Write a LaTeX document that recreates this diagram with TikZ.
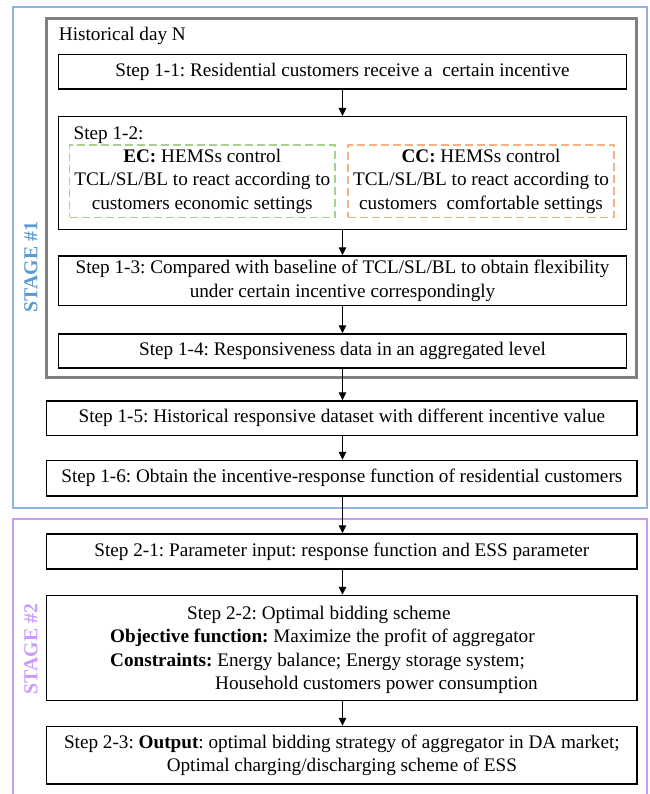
\documentclass[tikz,border=0pt]{standalone}
\usepackage{fontspec}
\setmainfont{Liberation Serif}
\usetikzlibrary{arrows.meta}
\definecolor{frameblue}{HTML}{8EB4E3}
\definecolor{textblue}{HTML}{5B9BD5}
\definecolor{framepurple}{HTML}{C99BF2}
\definecolor{textpurple}{HTML}{CC99FF}
\definecolor{framegray}{HTML}{7F7F7F}
\definecolor{ecgreen}{HTML}{A9D18E}
\definecolor{ccorange}{HTML}{F4B183}
\newcommand{\bodyfont}{\fontsize{19.2}{23.5}\selectfont\frenchspacing}
\tikzset{
  stepbox/.style={draw=black, line width=1.4pt, inner sep=0pt, align=center, font=\bodyfont},
  dashbox/.style={line width=1.3pt, dash pattern=on 8pt off 4pt, inner sep=0pt, align=center, font=\bodyfont},
  arr/.style={line width=1.3pt, -{Triangle[length=8pt,width=7.5pt]}},
  stagelabel/.style={rotate=90, font=\bfseries\fontsize{19.8}{21}\selectfont}
}
\begin{document}
\begin{tikzpicture}[x=1pt,y=-1pt]
\useasboundingbox (0,0) rectangle (649,794);
% stage frames
\node[draw=frameblue, line width=2pt, minimum width=633.2pt, minimum height=500.2pt, inner sep=0pt] (stage1) at (329.9,257.4) {};
\draw[draw=framepurple, line width=2pt] (13.3,800) -- (13.3,519) -- (646.7,519) -- (646.7,800);
\coordinate (stage2top) at (342,519);
% gray box
\node[draw=framegray, line width=2.5pt, minimum width=590pt, minimum height=359.2pt, inner sep=0pt] (dayN) at (341.7,197.9) {};
\node[font=\bodyfont, anchor=base west, inner sep=0pt] (daytitle) at (58.7,40.5) {Historical day N};
% stage labels
\node[stagelabel, text=textblue] (st1) at (31,267) {STAGE \#1};
\node[stagelabel, text=textpurple] (st2) at (31,649) {STAGE \#2};
% stage 1 steps
\node[stepbox, minimum width=568pt, minimum height=34.5pt] (s11) at (342.5,71.75) {Step 1-1: Residential customers receive a \ certain incentive};
\node[stepbox, minimum width=568pt, minimum height=112.8pt] (s12) at (342.5,173.1) {};
\node[font=\bodyfont, anchor=base west, inner sep=0pt] (s12t) at (73.5,140) {Step 1-2:};
\node[dashbox, draw=ecgreen, minimum width=265.5pt, minimum height=72.5pt] (ec) at (202.25,181.25) {\textbf{EC:} HEMSs control\\TCL/SL/BL to react according to\\customers economic settings};
\node[dashbox, draw=ccorange, minimum width=266pt, minimum height=72.5pt] (cc) at (481,181.25) {\textbf{CC:} HEMSs control\\TCL/SL/BL to react according to\\customers \ comfortable settings};
\node[stepbox, minimum width=568pt, minimum height=49.7pt] (s13) at (342.5,280.85) {Step 1-3: Compared with baseline of TCL/SL/BL to obtain flexibility\\under certain incentive correspondingly};
\node[stepbox, minimum width=568pt, minimum height=34pt] (s14) at (342.5,351) {Step 1-4: Responsiveness data in an aggregated level};
\node[stepbox, minimum width=590.3pt, minimum height=34.5pt] (s15) at (341.85,418.25) {Step 1-5: Historical responsive dataset with different incentive value};
\node[stepbox, minimum width=590.3pt, minimum height=35.5pt] (s16) at (341.85,478.25) {Step 1-6: Obtain the incentive-response function of residential customers};
% stage 2 steps
\node[stepbox, minimum width=590.3pt, minimum height=35pt] (s21) at (341.85,551.5) {Step 2-1: Parameter input: response function and ESS parameter};
\node[stepbox, minimum width=590.3pt, minimum height=105pt] (s22) at (341.85,648) {};
\node[font=\bodyfont, align=left, anchor=west, inner sep=0pt] (s22t) at (110,650) {\hspace*{77pt}Step 2-2: Optimal bidding scheme\\\textbf{Objective function:} Maximize the profit of aggregator\\\textbf{Constraints:} Energy balance; Energy storage system;\\\hspace*{105pt}Household customers power consumption};
\node[stepbox, minimum width=590.3pt, minimum height=57.5pt] (s23) at (341.85,755.25) {Step 2-3: \textbf{Output}: optimal bidding strategy of aggregator in DA market;\\Optimal charging/discharging scheme of ESS};
% arrows
\draw[arr] (s11.south) -- (s12.north);
\draw[arr] (s12.south) -- (s13.north);
\draw[arr] (s13.south) -- (s14.north);
\draw[arr] (s14.south) -- (s14.south |- s15.north);
\draw[arr] (s15.south -| s14.south) -- (s14.south |- s16.north);
\draw[arr] (s16.south -| s14.south) -- (s14.south |- s21.north);
\draw[arr] (s21.south -| s14.south) -- (s14.south |- s22.north);
\draw[arr] (s22.south -| s14.south) -- (s14.south |- s23.north);
\end{tikzpicture}
\end{document}
